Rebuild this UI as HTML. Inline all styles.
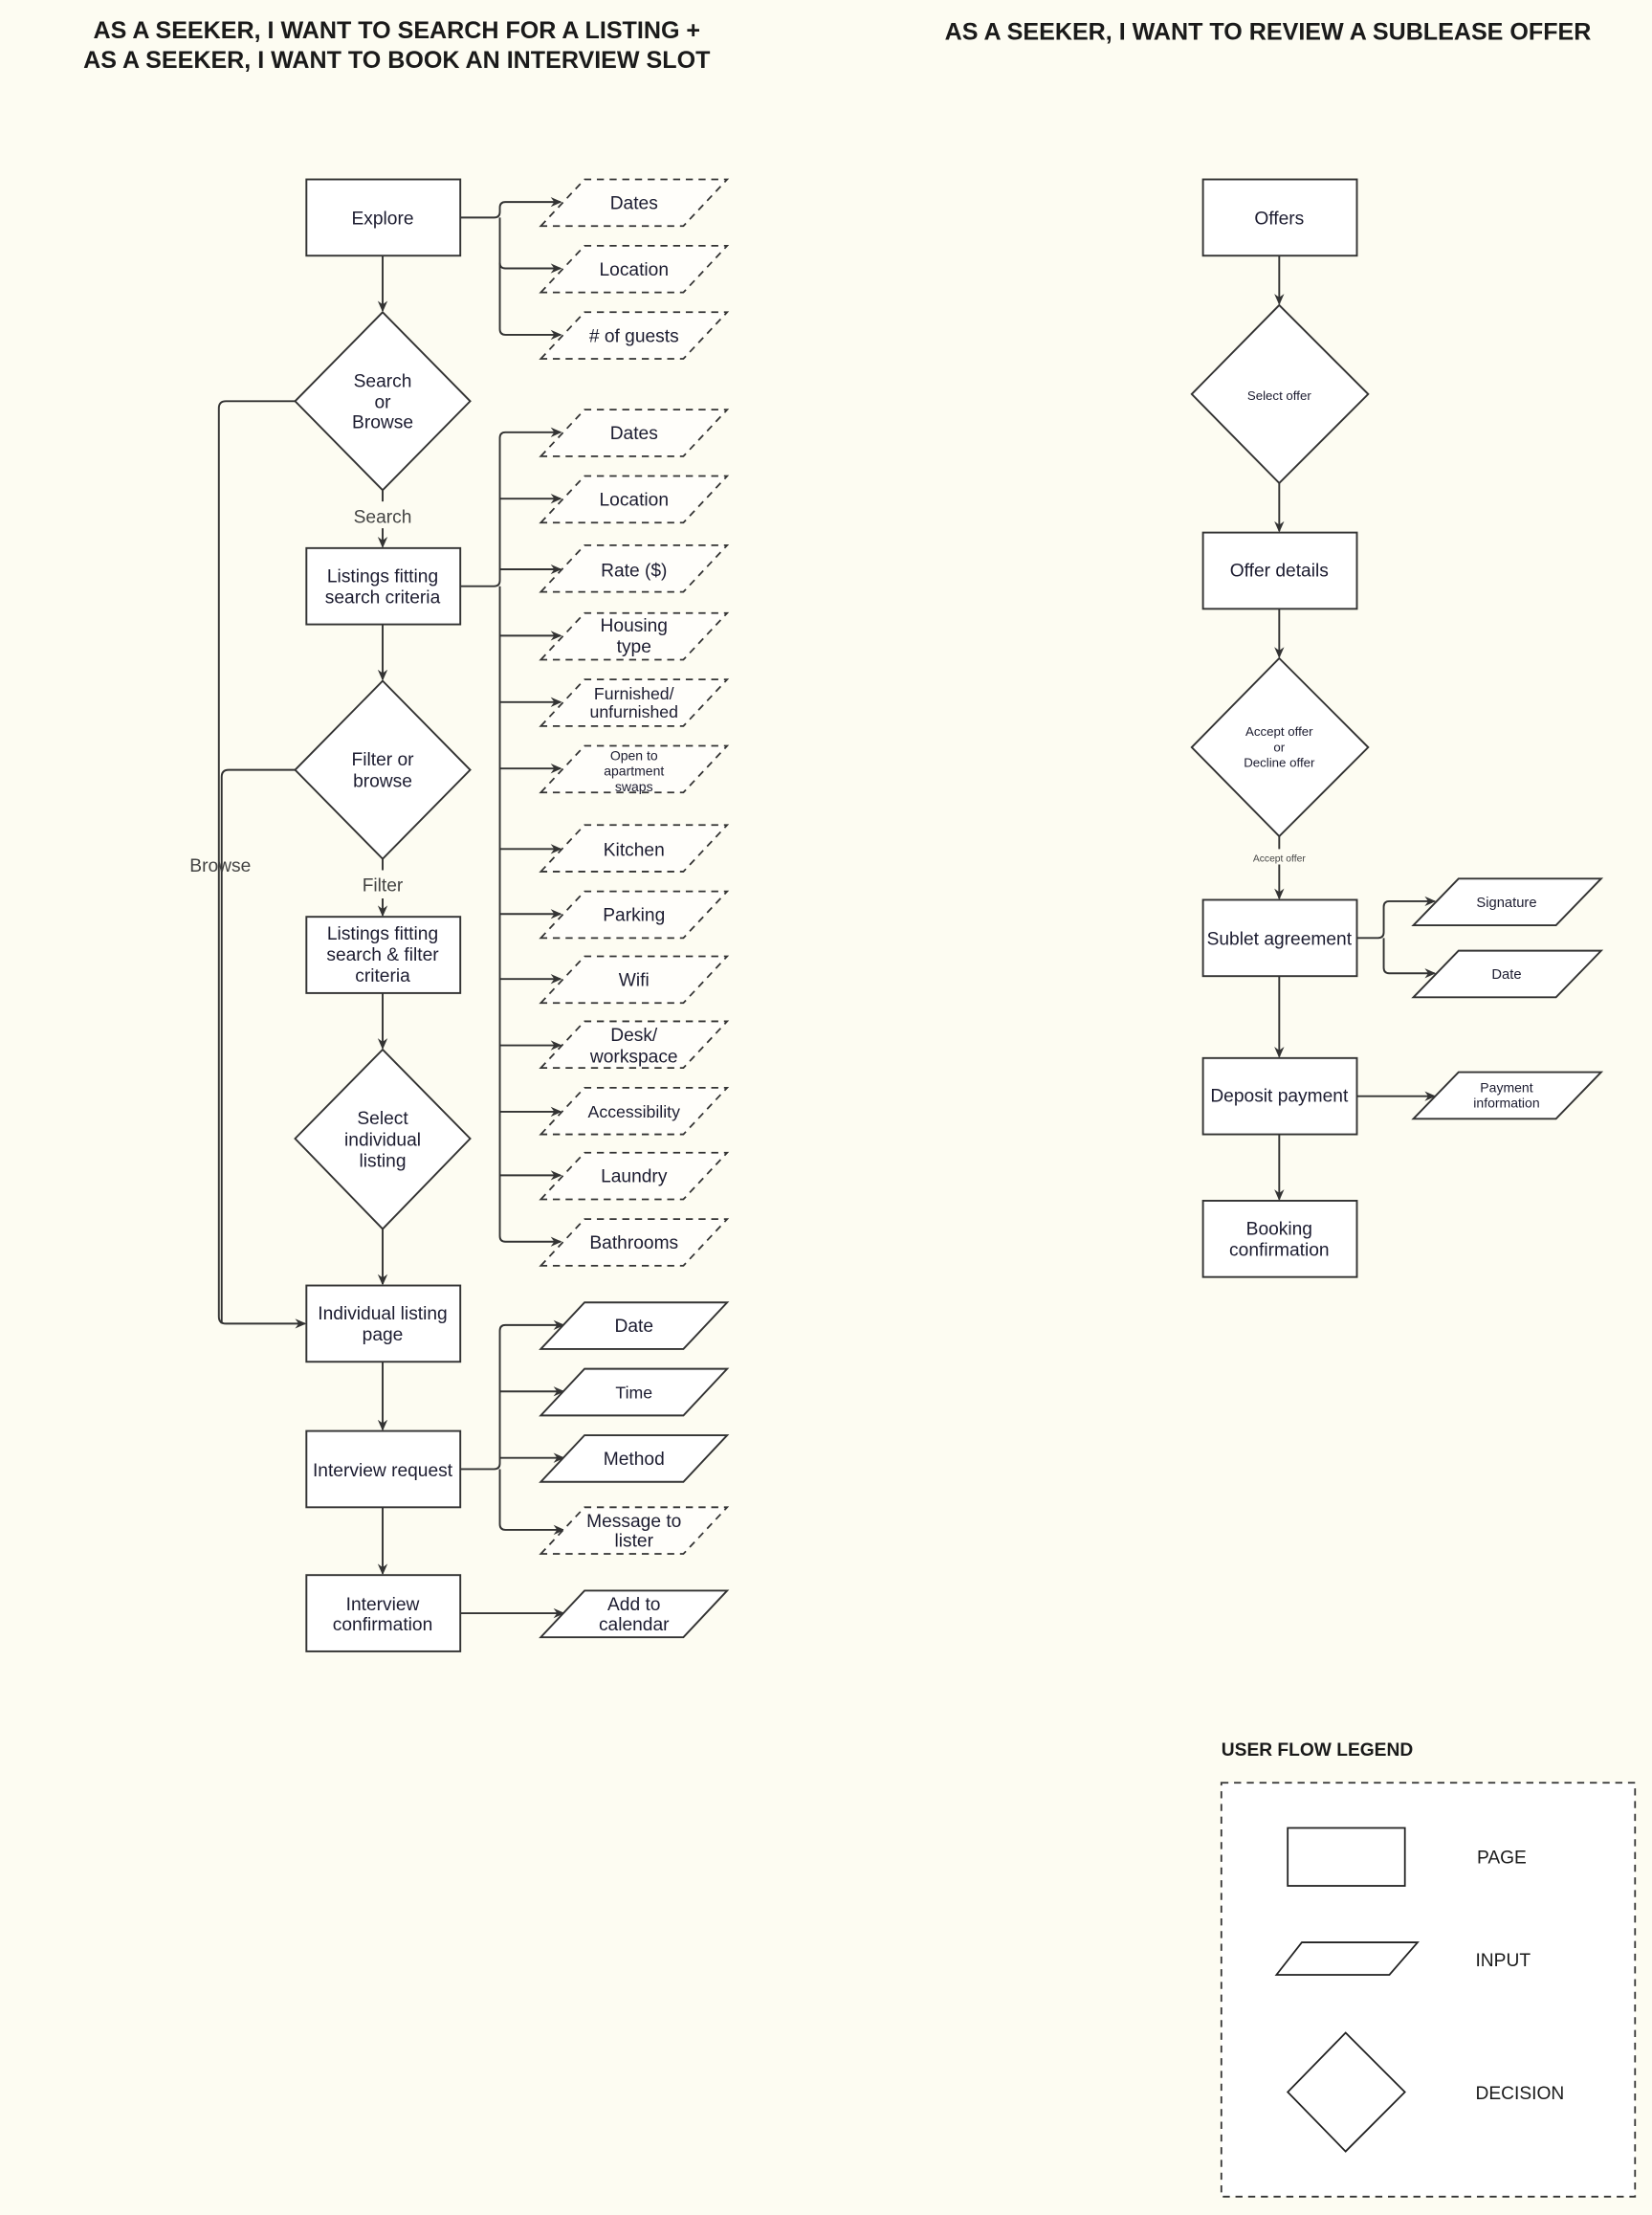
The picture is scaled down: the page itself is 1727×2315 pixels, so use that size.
<!DOCTYPE html>
<html><head><meta charset="utf-8"><style>
html,body{margin:0;padding:0;background:#fdfcf2;}
svg{display:block;}
text{font-family:"Liberation Sans",sans-serif;fill:#1c1c30;}
</style></head><body>
<svg width="1727" height="2315" viewBox="0 0 1170 1568" preserveAspectRatio="none" xmlns="http://www.w3.org/2000/svg">
<defs>
<marker id="a" markerWidth="8" markerHeight="8" refX="7" refY="4" orient="auto" markerUnits="userSpaceOnUse"><path d="M0,0.5 L8,4 L0,7.5 L2.5,4 Z" fill="#333"/></marker>
</defs>
<rect width="1170" height="1568" fill="#fdfcf2"/>
<g font-weight="bold" font-size="17" text-anchor="middle">
<text x="281" y="27" style="fill:#1a1a1a">AS A SEEKER, I WANT TO SEARCH FOR A LISTING +</text>
<text x="281" y="48" style="fill:#1a1a1a">AS A SEEKER, I WANT TO BOOK AN INTERVIEW SLOT</text>
<text x="898" y="28" style="fill:#1a1a1a">AS A SEEKER, I WANT TO REVIEW A SUBLEASE OFFER</text>
</g>

<g stroke="#333" stroke-width="1.3" fill="none">
<!-- left main vertical arrows -->
<path d="M271,181 V220" marker-end="url(#a)"/>
<path d="M271,347 V355 M271,374 V387" marker-end="url(#a)"/>
<path d="M271,442 V481" marker-end="url(#a)"/>
<path d="M271,608 V616 M271,636 V648" marker-end="url(#a)"/>
<path d="M271,703 V742" marker-end="url(#a)"/>
<path d="M271,870 V909" marker-end="url(#a)"/>
<path d="M271,964 V1012" marker-end="url(#a)"/>
<path d="M271,1067 V1114" marker-end="url(#a)"/>
<!-- browse lines -->
<path d="M209,284 H160 Q155,284 155,289 V932 Q155,937 160,937 H216" marker-end="url(#a)"/>
<path d="M209,545 H162 Q157,545 157,550 V937"/>
<!-- explore branches -->
<path d="M326,154 H350 Q354,154 354,150 V147 Q354,143 358,143 H397" marker-end="url(#a)"/>
<path d="M354,154 V186 Q354,190 358,190 H397" marker-end="url(#a)"/>
<path d="M354,186 V233 Q354,237 358,237 H397" marker-end="url(#a)"/>
<!-- listings branches -->
<path d="M326,415 H350 Q354,415 354,411 V310 Q354,306 358,306 H397" marker-end="url(#a)"/>
<path d="M354,415 V875 Q354,879 358,879 H397" marker-end="url(#a)"/>
<path d="M354,353 H397" marker-end="url(#a)"/>
<path d="M354,403 H397" marker-end="url(#a)"/>
<path d="M354,450 H397" marker-end="url(#a)"/>
<path d="M354,497 H397" marker-end="url(#a)"/>
<path d="M354,544 H397" marker-end="url(#a)"/>
<path d="M354,601 H397" marker-end="url(#a)"/>
<path d="M354,647 H397" marker-end="url(#a)"/>
<path d="M354,693 H397" marker-end="url(#a)"/>
<path d="M354,740 H397" marker-end="url(#a)"/>
<path d="M354,787 H397" marker-end="url(#a)"/>
<path d="M354,832 H397" marker-end="url(#a)"/>
<!-- interview branches -->
<path d="M326,1040 H350 Q354,1040 354,1036 V942 Q354,938 358,938 H399" marker-end="url(#a)"/>
<path d="M354,1040 V1079 Q354,1083 358,1083 H399" marker-end="url(#a)"/>
<path d="M354,985 H399" marker-end="url(#a)"/>
<path d="M354,1032 H399" marker-end="url(#a)"/>
<path d="M326,1142 H399" marker-end="url(#a)"/>
<!-- right column -->
<path d="M906,181 V215" marker-end="url(#a)"/>
<path d="M906,342 V376" marker-end="url(#a)"/>
<path d="M906,431 V465" marker-end="url(#a)"/>
<path d="M906,592 V601 M906,612 V636" marker-end="url(#a)"/>
<path d="M961,664 H976 Q980,664 980,660 V642 Q980,638 984,638 H1016" marker-end="url(#a)"/>
<path d="M980,664 V685 Q980,689 984,689 H1016" marker-end="url(#a)"/>
<path d="M906,691 V748" marker-end="url(#a)"/>
<path d="M961,776 H1016" marker-end="url(#a)"/>
<path d="M906,803 V849" marker-end="url(#a)"/>
</g>

<g stroke="#333" stroke-width="1.3" fill="#fff">
<rect x="217" y="127" width="109" height="54"/>
<rect x="217" y="388" width="109" height="54"/>
<rect x="217" y="649" width="109" height="54"/>
<rect x="217" y="910" width="109" height="54"/>
<rect x="217" y="1013" width="109" height="54"/>
<rect x="217" y="1115" width="109" height="54"/>
<polygon points="271,221 333,284 271,347 209,284"/>
<polygon points="271,482 333,545 271,608 209,545"/>
<polygon points="271,743 333,806 271,870 209,806"/>
<rect x="852" y="127" width="109" height="54"/>
<rect x="852" y="377" width="109" height="54"/>
<rect x="852" y="637" width="109" height="54"/>
<rect x="852" y="749" width="109" height="54"/>
<rect x="852" y="850" width="109" height="54"/>
<polygon points="906,216 969,279 906,342 844,279"/>
<polygon points="906,466 969,529 906,592 844,529"/>
<!-- solid paras -->
<polygon points="383,955 414,922 515,922 484,955"/>
<polygon points="383,1002 414,969 515,969 484,1002"/>
<polygon points="383,1049 414,1016 515,1016 484,1049"/>
<polygon points="383,1159 414,1126 515,1126 484,1159"/>
<polygon points="1001,655 1033,622 1134,622 1102,655"/>
<polygon points="1001,706 1033,673 1134,673 1102,706"/>
<polygon points="1001,792 1033,759 1134,759 1102,792"/>
</g>
<g stroke="#333" stroke-width="1.2" fill="#fffefa" stroke-dasharray="5,4">
<polygon points="383,160 414,127 515,127 484,160"/>
<polygon points="383,207 414,174 515,174 484,207"/>
<polygon points="383,254 414,221 515,221 484,254"/>
<polygon points="383,323 414,290 515,290 484,323"/>
<polygon points="383,370 414,337 515,337 484,370"/>
<polygon points="383,419 414,386 515,386 484,419"/>
<polygon points="383,467 414,434 515,434 484,467"/>
<polygon points="383,514 414,481 515,481 484,514"/>
<polygon points="383,561 414,528 515,528 484,561"/>
<polygon points="383,617 414,584 515,584 484,617"/>
<polygon points="383,664 414,631 515,631 484,664"/>
<polygon points="383,710 414,677 515,677 484,710"/>
<polygon points="383,756 414,723 515,723 484,756"/>
<polygon points="383,803 414,770 515,770 484,803"/>
<polygon points="383,849 414,816 515,816 484,849"/>
<polygon points="383,896 414,863 515,863 484,896"/>
<polygon points="383,1100 414,1067 515,1067 484,1100"/>
</g>

<g font-size="13" text-anchor="middle">
<text x="271" y="159">Explore</text>
<text x="271" y="274">Search</text><text x="271" y="289">or</text><text x="271" y="303">Browse</text>
<text x="271" y="370" style="fill:#444">Search</text>
<text x="271" y="412">Listings fitting</text><text x="271" y="427">search criteria</text>
<text x="271" y="542">Filter or</text><text x="271" y="557">browse</text>
<text x="271" y="631" style="fill:#444">Filter</text>
<text x="156" y="617" style="fill:#444">Browse</text>
<text x="271" y="665">Listings fitting</text><text x="271" y="680">search &amp; filter</text><text x="271" y="695">criteria</text>
<text x="271" y="796">Select</text><text x="271" y="811">individual</text><text x="271" y="826">listing</text>
<text x="271" y="934">Individual listing</text><text x="271" y="949">page</text>
<text x="271" y="1045">Interview request</text>
<text x="271" y="1140">Interview</text><text x="271" y="1154">confirmation</text>

<text x="449" y="148">Dates</text>
<text x="449" y="195">Location</text>
<text x="449" y="242"># of guests</text>
<text x="449" y="311">Dates</text>
<text x="449" y="358">Location</text>
<text x="449" y="408">Rate ($)</text>
<text x="449" y="447">Housing</text><text x="449" y="462">type</text>
<text x="449" y="495" font-size="12">Furnished/</text><text x="449" y="508" font-size="12">unfurnished</text>
<text x="449" y="538" font-size="9.5">Open to</text><text x="449" y="549" font-size="9.5">apartment</text><text x="449" y="560" font-size="9.5">swaps</text>
<text x="449" y="606">Kitchen</text>
<text x="449" y="652">Parking</text>
<text x="449" y="698">Wifi</text>
<text x="449" y="737">Desk/</text><text x="449" y="752">workspace</text>
<text x="449" y="791" font-size="12">Accessibility</text>
<text x="449" y="837">Laundry</text>
<text x="449" y="884">Bathrooms</text>
<text x="449" y="943">Date</text>
<text x="449" y="990" font-size="12">Time</text>
<text x="449" y="1037">Method</text>
<text x="449" y="1081">Message to</text><text x="449" y="1095">lister</text>
<text x="449" y="1140">Add to</text><text x="449" y="1154">calendar</text>

<text x="906" y="159">Offers</text>
<text x="906" y="283" font-size="9">Select offer</text>
<text x="906" y="408">Offer details</text>
<text x="906" y="521" font-size="9">Accept offer</text><text x="906" y="532" font-size="9">or</text><text x="906" y="543" font-size="9">Decline offer</text>
<text x="906" y="610" font-size="7" style="fill:#444">Accept offer</text>
<text x="906" y="669">Sublet agreement</text>
<text x="906" y="780">Deposit payment</text>
<text x="906" y="874">Booking</text><text x="906" y="889">confirmation</text>
<text x="1067" y="642" font-size="10">Signature</text>
<text x="1067" y="693" font-size="10">Date</text>
<text x="1067" y="773" font-size="9.5">Payment</text><text x="1067" y="784" font-size="9.5">information</text>
</g>

<text x="865" y="1243" font-size="13" font-weight="bold" style="fill:#1a1a1a">USER FLOW LEGEND</text>
<rect x="865" y="1262" width="293" height="293" fill="#fff" stroke="#333" stroke-width="1.2" stroke-dasharray="5,4"/>
<g stroke="#222" stroke-width="1.2" fill="none">
<rect x="912" y="1294" width="83" height="41"/>
<polygon points="904,1398 922,1375 1004,1375 984,1398"/>
<polygon points="953,1439 995,1481 953,1523 912,1481"/>
</g>
<g font-size="13" style="fill:#1a1a1a">
<text x="1046" y="1319" style="fill:#1a1a1a">PAGE</text>
<text x="1045" y="1392" style="fill:#1a1a1a">INPUT</text>
<text x="1045" y="1486" style="fill:#1a1a1a">DECISION</text>
</g>
</svg>
</body></html>
